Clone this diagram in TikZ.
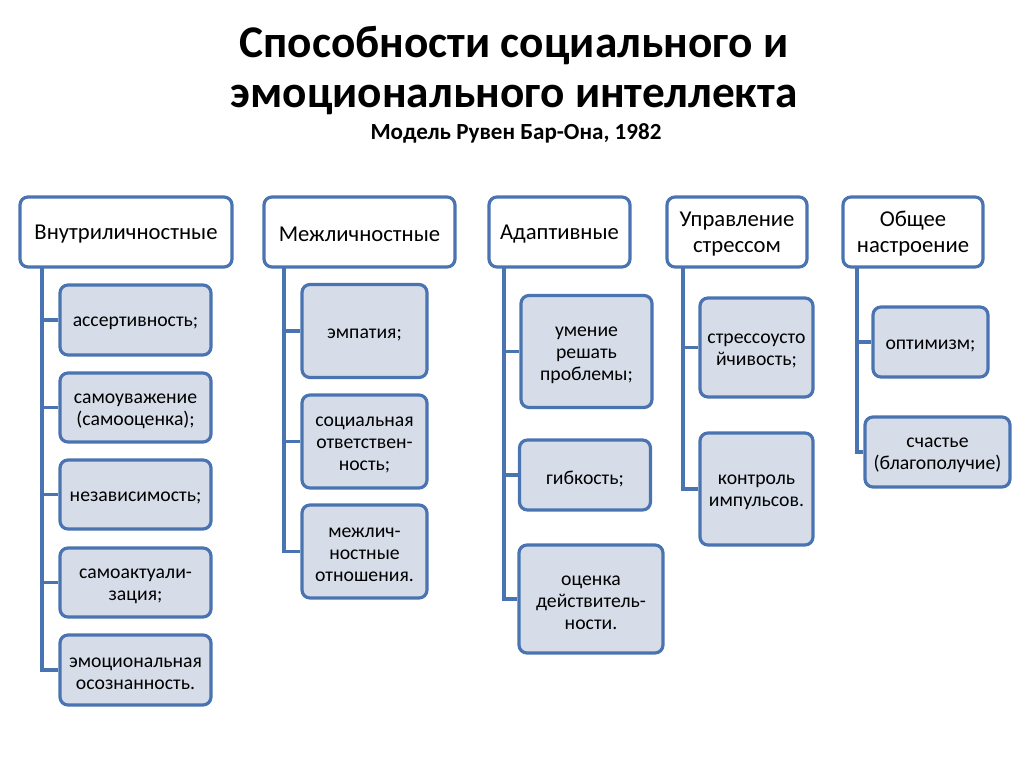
\documentclass[tikz,border=0pt]{standalone}
\usepackage{fontspec}
\setmainfont{Carlito}
\usepackage{tikz}
\usetikzlibrary{backgrounds}

\definecolor{rama}{RGB}{74,116,177}
\definecolor{relleno}{RGB}{214,221,233}

\tikzset{
  titulo/.style={font=\fontsize{34}{40}\selectfont\bfseries},
  % texto un poco más bajo que el centro de la caja
  bajar/.style={execute at begin node={\setbox1=\hbox\bgroup},
    execute at end node={\egroup\rule{0pt}{\dimexpr\ht1+#1\relax}\box1}},
  cabeza/.style={draw=rama, line width=2.4pt, fill=white, rounded corners=6pt,
    align=center, font=\fontsize{17}{19.5}\selectfont, inner sep=2pt, bajar=3pt},
  hoja/.style={draw=rama, line width=2.4pt, fill=relleno, rounded corners=6pt,
    align=center, font=\fontsize{14.8}{16.5}\selectfont, inner sep=2pt, bajar=5.5pt},
  enlace/.style={draw=rama, line width=2.4pt}
}

\begin{document}
\begin{tikzpicture}[x=0.75pt, y=-0.75pt]
    % Marco (pixeles de la referencia)
    \useasboundingbox (0,0) rectangle (1024,767);

    % Título
    \node[titulo] (t1) at (514,46) {Способности социального и};
    \node[titulo] (t2) at (514,100) {эмоционального интеллекта};
    \node[font=\fontsize{17.3}{20}\selectfont\bfseries] (t3) at (516,133) {Модель Рувен Бар-Она, 1982};

    % Arranque de las líneas verticales
    \coordinate (v1) at (42,260);
    \coordinate (v2) at (284,260);
    \coordinate (v3) at (504,260);
    \coordinate (v4) at (683,260);
    \coordinate (v5) at (857,260);

    % Cajas de cabecera
    \node[cabeza, minimum width=212*0.75pt, minimum height=70*0.75pt] (h1) at (126,232) {Внутриличностные};
    \node[cabeza, minimum width=191*0.75pt, minimum height=70*0.75pt] (h2) at (359.5,232) {Межличностные};
    \node[cabeza, minimum width=141*0.75pt, minimum height=70*0.75pt] (h3) at (559.5,232) {Адаптивные};
    \node[cabeza, minimum width=140*0.75pt, minimum height=70*0.75pt] (h4) at (737,232) {Управление\\стрессом};
    \node[cabeza, minimum width=140*0.75pt, minimum height=70*0.75pt] (h5) at (913,232) {Общее\\настроение};

    % Columna 1
    \node[hoja, minimum width=151*0.75pt, minimum height=70*0.75pt] (a1) at (135.5,320) {ассертивность;};
    \node[hoja, minimum width=151*0.75pt, minimum height=69*0.75pt] (a2) at (135.5,407.5) {самоуважение\\(самооценка);};
    \node[hoja, minimum width=151*0.75pt, minimum height=69*0.75pt] (a3) at (135.5,494.5) {независимость;};
    \node[hoja, minimum width=151*0.75pt, minimum height=69*0.75pt] (a4) at (135.5,582.5) {самоактуали-\\зация;};
    \node[hoja, minimum width=151*0.75pt, minimum height=70*0.75pt] (a5) at (135.5,670) {эмоциональная\\осознанность.};

    % Columna 2
    \node[hoja, minimum width=125*0.75pt, minimum height=93*0.75pt] (b1) at (364.5,331) {эмпатия;};
    \node[hoja, minimum width=125*0.75pt, minimum height=93*0.75pt] (b2) at (364.5,441.5) {социальная\\ответствен-\\ность;};
    \node[hoja, minimum width=125*0.75pt, minimum height=93*0.75pt] (b3) at (364.5,551.5) {межлич-\\ностные\\отношения.};

    % Columna 3
    \node[hoja, minimum width=131*0.75pt, minimum height=112*0.75pt] (c1) at (586.5,351.5) {умение\\решать\\проблемы;};
    \node[hoja, minimum width=131*0.75pt, minimum height=70*0.75pt] (c2) at (585,475) {гибкость;};
    \node[hoja, minimum width=144*0.75pt, minimum height=108*0.75pt] (c3) at (591,599) {оценка\\действитель-\\ности.};

    % Columna 4
    \node[hoja, minimum width=113*0.75pt, minimum height=99*0.75pt] (d1) at (756.5,347.5) {стрессоусто\\йчивость;};
    \node[hoja, minimum width=113*0.75pt, minimum height=112*0.75pt] (d2) at (756.5,489) {контроль\\импульсов.};

    % Columna 5
    \node[hoja, minimum width=115*0.75pt, minimum height=70*0.75pt] (e1) at (930.5,342) {оптимизм;};
    \node[hoja, minimum width=145*0.75pt, minimum height=70*0.75pt] (e2) at (937.5,452) {счастье\\(благополучие)};

    % Conectores (detrás de las cajas)
    \begin{scope}[on background layer]
      \foreach \hijo in {a1,a2,a3,a4,a5} \draw[enlace] (v1) |- (\hijo.west);
      \foreach \hijo in {b1,b2,b3} \draw[enlace] (v2) |- (\hijo.west);
      \foreach \hijo in {c1,c2,c3} \draw[enlace] (v3) |- (\hijo.west);
      \foreach \hijo in {d1,d2} \draw[enlace] (v4) |- (\hijo.west);
      \foreach \hijo in {e1,e2} \draw[enlace] (v5) |- (\hijo.west);
    \end{scope}
  \end{tikzpicture}
\end{document}
